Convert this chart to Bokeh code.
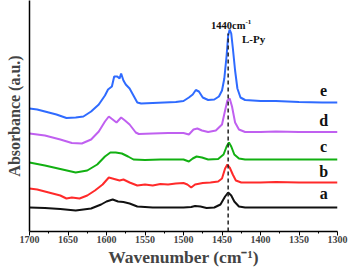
from bokeh.plotting import figure
from bokeh.models import Range1d, FixedTicker
from bokeh.core.properties import value
from bokeh.embed import file_html
from bokeh.resources import INLINE

# ---- data (y in arbitrary absorbance units) ----
wn_a = [1700, 1680, 1660, 1640, 1620, 1607, 1600, 1592, 1585, 1578, 1570, 1560, 1540, 1520, 1500, 1490,
        1485, 1478, 1470, 1460, 1452, 1446, 1442, 1438, 1434, 1428, 1420, 1400, 1380, 1350, 1300]
ab_a = [24, 23.5, 22.5, 21, 23, 27, 30, 32, 30, 29.5, 28, 25, 24, 24, 24, 24.5,
        25.5, 25, 23.5, 24, 27, 35, 39, 36, 30, 25, 24, 24, 24, 24, 24]

wn_b = [1700, 1690, 1680, 1670, 1660, 1652, 1645, 1635, 1625, 1615, 1605, 1597, 1590, 1583, 1578, 1570,
        1560, 1550, 1540, 1530, 1520, 1510, 1500, 1495, 1490, 1485, 1475, 1465, 1455, 1450, 1446, 1443,
        1440, 1436, 1432, 1425, 1400, 1380, 1350, 1300]
ab_b = [43, 42, 40, 38, 36, 33, 34, 33, 36, 41, 47, 54, 52.5, 51, 52, 49,
        46, 47, 46, 47.5, 47, 48, 48.5, 47, 44, 47, 48.5, 49, 50, 53, 63, 67,
        64, 57, 51, 49, 49, 49.5, 49, 49]

wn_c = [1700, 1680, 1660, 1640, 1625, 1612, 1602, 1595, 1588, 1580, 1572, 1565, 1550, 1530, 1510, 1500,
        1493, 1488, 1483, 1476, 1468, 1455, 1448, 1444, 1441, 1438, 1434, 1428, 1420, 1400, 1350, 1300]
ab_c = [69, 66, 62.5, 59, 61, 67, 75, 79, 79, 78, 75, 72, 71.5, 72, 72, 72,
        70, 73, 75, 74, 72, 72.5, 77, 85, 89, 85, 77, 73, 72, 72, 72, 72]

wn_d = [1700, 1680, 1660, 1645, 1632, 1620, 1610, 1602, 1597, 1592, 1587, 1581, 1576, 1570, 1562, 1558,
        1540, 1520, 1500, 1493, 1487, 1482, 1476, 1468, 1458, 1450, 1446, 1443, 1440, 1437, 1433, 1428,
        1420, 1400, 1380, 1350, 1300]
ab_d = [98, 96, 92, 88.5, 88, 92, 100, 110, 115, 112, 109, 114, 111, 107, 99, 97.5,
        98, 98.5, 98.5, 97, 102, 103, 101, 99.5, 101, 107, 121, 131, 133, 125, 109, 102,
        99.5, 99.5, 100, 99.5, 99.5]

wn_e = [1700, 1690, 1680, 1665, 1652, 1640, 1630, 1620, 1610, 1602, 1598, 1593, 1590, 1586, 1583, 1581,
        1578, 1575, 1570, 1565, 1560, 1555, 1540, 1525, 1510, 1500, 1493, 1488, 1484, 1480, 1475, 1468,
        1460, 1454, 1450, 1447, 1444, 1442, 1440, 1438, 1436, 1433, 1430, 1426, 1420, 1400, 1380, 1350,
        1320, 1300]
ab_e = [123, 122, 120, 117, 113.5, 114, 115, 120, 127, 136, 142, 145, 155, 155, 153, 158,
        151, 147, 143, 136, 129, 128, 128.5, 129, 129.5, 130.5, 134, 137, 141.5, 140, 134, 131.5,
        132, 135, 141, 153, 176, 196, 202, 198, 184, 161, 143, 134, 131.5, 130.5, 130.5, 129.5,
        129, 129]

series_names = ["a", "b", "c", "d", "e"]
series_colors = ["#111111", "#ff2a2a", "#12b012", "#c060f0", "#2f6bff"]
label_pos_y = [38, 60, 85, 111, 141]
label_pos_x = 1318

peak_wn = 1442
peak_line_y = [0, 198]
xticks = [1700, 1650, 1600, 1550, 1500, 1450, 1400, 1350, 1300]
xminor = [1675, 1625, 1575, 1525, 1475, 1425, 1375, 1325]

FONT = "Liberation Serif"

p = figure(width=349, height=272, output_backend="svg", toolbar_location=None,
           x_range=Range1d(1700, 1300), y_range=Range1d(0, 231),
           min_border_left=29, min_border_right=12, min_border_top=0, min_border_bottom=41)
p.outline_line_color = None
p.xgrid.visible = False
p.ygrid.visible = False
p.background_fill_color = "white"
p.border_fill_color = "white"

xs = [wn_a, wn_b, wn_c, wn_d, wn_e]
ys = [ab_a, ab_b, ab_c, ab_d, ab_e]
for x, y, c in zip(xs, ys, series_colors):
    p.line(x, y, line_color=c, line_width=2)

p.line([peak_wn, peak_wn], peak_line_y, line_color="#222222", line_width=1.5, line_dash="4 3")

for name, yy in zip(series_names, label_pos_y):
    p.text(x=[label_pos_x], y=[yy], text=[name], text_font=value(FONT), text_font_style="bold",
           text_font_size="16px", text_align="center", text_baseline="middle", text_color="#111111")

p.text(x=[1419.5], y=[206], text=["1440cm"], text_font=value(FONT), text_font_style="bold",
       text_font_size="10.5px", text_align="right", text_baseline="middle", text_color="#111111")
p.text(x=[1419.5], y=[210], text=["-1"], text_font=value(FONT), text_font_style="bold",
       text_font_size="7px", text_align="left", text_baseline="middle", text_color="#111111")
p.text(x=[1409], y=[193], text=["L-Py"], text_font=value(FONT), text_font_style="bold",
       text_font_size="11px", text_align="center", text_baseline="middle", text_color="#111111")

xa = p.xaxis[0]
xa.ticker = FixedTicker(ticks=xticks, minor_ticks=xminor)
xa.axis_label = "Wavenumber (cm\u207b\u00b9)"
xa.axis_label_text_font = FONT
xa.axis_label_text_font_style = "bold"
xa.axis_label_text_font_size = "17.5px"
xa.axis_label_standoff = 1
xa.major_label_text_font = FONT
xa.major_label_text_font_style = "bold"
xa.major_label_text_font_size = "10px"
xa.major_label_standoff = 0
xa.major_tick_out = 4
xa.major_tick_in = 0
xa.minor_tick_out = 2
xa.minor_tick_in = 0
xa.axis_line_width = 1.5

ya = p.yaxis[0]
ya.ticker = FixedTicker(ticks=[])
ya.major_tick_line_color = None
ya.minor_tick_line_color = None
ya.major_label_text_font_size = "0px"
ya.axis_label = "Absorbance (a.u.)"
ya.axis_label_text_font = FONT
ya.axis_label_text_font_style = "bold"
ya.axis_label_text_font_size = "16px"
ya.axis_label_standoff = 7
ya.axis_line_width = 1.5

open("out.html", "w").write(file_html(p, INLINE))
